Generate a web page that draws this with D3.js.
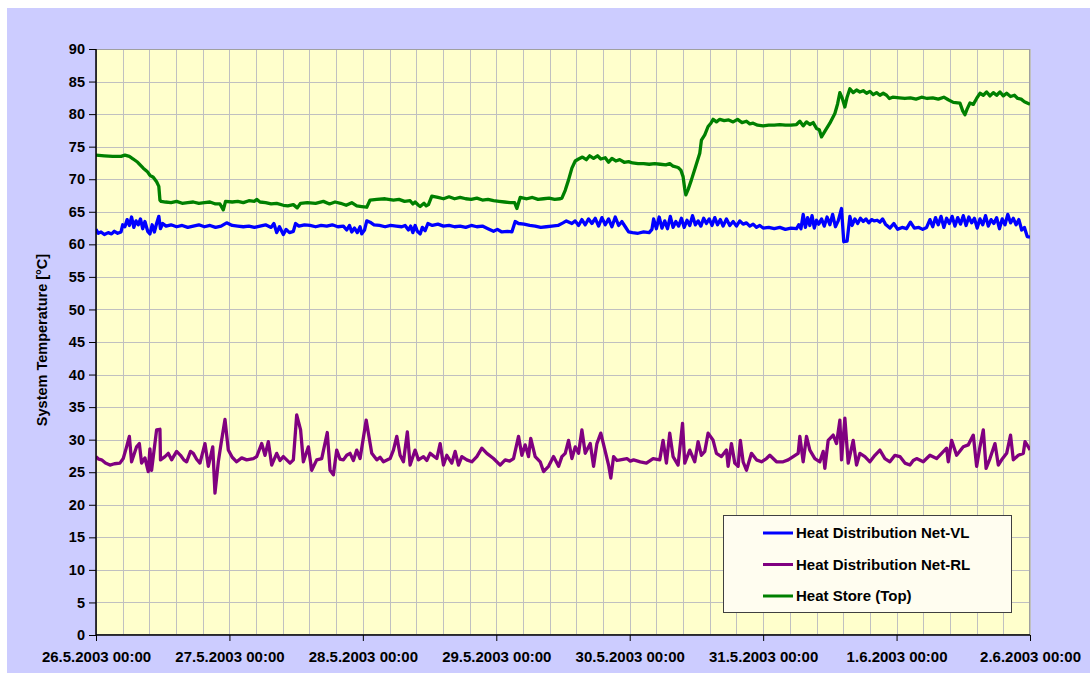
<!DOCTYPE html>
<html>
<head>
<meta charset="utf-8">
<script src="https://cdn.jsdelivr.net/npm/d3@7"></script>
<style>
  html, body { margin: 0; padding: 0; background: #ffffff; }
  svg { display: block; }
  text { font-family: Arial, "Liberation Sans", sans-serif; font-weight: bold; fill: #000; }
</style>
</head>
<body>
<svg id="chart" width="1090" height="673"></svg>
<script>
// Time axis: hours since 26.5.2003 00:00
const dayLabels = ["26.5.2003 00:00", "27.5.2003 00:00", "28.5.2003 00:00", "29.5.2003 00:00",
                   "30.5.2003 00:00", "31.5.2003 00:00", "1.6.2003 00:00", "2.6.2003 00:00"];
const yTicks = [0, 5, 10, 15, 20, 25, 30, 35, 40, 45, 50, 55, 60, 65, 70, 75, 80, 85, 90];
const seriesNames = ["Heat Distribution Net-VL", "Heat Distribution Net-RL", "Heat Store (Top)"];
const seriesColors = ["#0000ff", "#800080", "#008000"];

// [hour, °C]
const netVL = [[0,62.3],[0.4,61.7],[0.9,61.9],[1.5,61.5],[2.2,61.8],[2.8,61.6],[3.3,62.0],[3.9,61.7],[4.5,61.9],[4.8,63.0],[5.2,62.7],[5.6,63.8],[6.0,62.9],[6.4,64.2],[6.8,62.6],[7.2,63.6],[7.6,63.0],[8.0,63.9],[8.4,62.4],[8.8,63.5],[9.3,62.0],[9.7,61.6],[10.1,63.0],[10.5,61.9],[10.9,63.2],[11.3,64.3],[11.6,62.4],[12.0,63.2],[12.6,62.8],[13.5,63.0],[14.5,62.7],[15.5,62.9],[16.5,62.6],[17.5,62.8],[18.5,63.0],[19.5,62.7],[20.5,62.9],[21.5,62.6],[22.5,62.8],[23.5,63.3],[24.5,62.9],[25.5,62.8],[26.5,62.7],[27.5,62.8],[28.5,62.6],[29.5,62.8],[30.5,63.0],[31.5,62.6],[32.0,63.2],[32.5,61.8],[33.0,62.7],[33.7,61.5],[34.2,62.3],[34.8,61.8],[35.5,62.0],[35.9,63.2],[36.5,62.8],[37.5,63.0],[38.5,62.9],[39.5,62.7],[40.5,62.9],[41.5,62.8],[42.5,63.0],[43.5,62.7],[44.5,62.8],[45.1,62.2],[45.6,62.9],[46.0,61.9],[46.5,62.5],[47.0,61.8],[47.5,62.7],[47.8,61.6],[48.3,62.2],[48.7,63.6],[49.3,63.4],[50.0,63.0],[51.0,62.9],[52.0,62.7],[53.0,62.9],[54.0,62.8],[55.0,62.7],[55.6,62.9],[56.2,62.2],[56.6,62.8],[57.0,61.8],[57.4,62.9],[57.8,62.0],[58.3,61.6],[58.7,62.6],[59.2,62.1],[59.7,63.2],[60.5,62.9],[61.5,63.1],[62.5,62.8],[63.5,62.9],[64.5,62.7],[65.5,62.8],[66.5,62.6],[67.5,62.9],[68.5,62.7],[69.5,62.8],[70.5,62.4],[71.5,62.0],[72.2,62.3],[73.0,61.9],[74.0,62.0],[74.8,61.9],[75.4,63.5],[76.0,63.2],[77.0,63.1],[78.0,62.9],[79.0,62.8],[80.0,62.6],[81.0,62.7],[82.0,62.8],[83.1,62.9],[84.0,63.3],[84.6,63.6],[85.6,63.2],[86.2,63.6],[86.8,62.9],[87.4,63.8],[88.0,63.0],[88.6,63.9],[89.2,63.2],[89.8,64.0],[90.4,62.8],[91.0,64.1],[91.6,63.0],[92.2,63.9],[92.8,62.7],[93.4,64.2],[94.0,62.9],[94.6,63.5],[95.2,62.7],[95.8,61.9],[96.5,61.8],[97.5,61.7],[98.5,61.9],[99.5,61.8],[100.0,62.3],[100.3,63.9],[100.8,62.4],[101.3,64.2],[101.8,62.5],[102.3,63.6],[102.8,62.4],[103.3,64.3],[103.8,62.6],[104.3,63.5],[104.8,62.8],[105.3,64.0],[105.8,62.6],[106.3,63.7],[106.8,62.9],[107.3,64.4],[107.8,63.0],[108.3,63.6],[108.8,62.8],[109.3,64.0],[109.8,63.2],[110.3,63.9],[110.8,62.9],[111.3,64.1],[111.8,63.0],[112.3,63.8],[112.8,62.8],[113.4,63.9],[114.0,62.9],[114.6,63.5],[115.2,62.8],[115.8,63.6],[116.4,63.1],[117.0,63.3],[117.6,62.8],[118.2,63.1],[118.8,62.6],[119.4,62.9],[120.0,62.5],[121.0,62.6],[122.0,62.4],[123.0,62.6],[124.0,62.3],[125.0,62.5],[126.0,62.4],[126.4,63.0],[126.8,62.4],[127.2,64.6],[127.6,62.6],[128.0,64.1],[128.4,62.9],[128.8,64.4],[129.2,62.5],[129.6,63.7],[130.0,63.1],[130.5,63.9],[131.0,62.8],[131.5,64.2],[132.0,63.0],[132.5,64.6],[133.0,62.7],[133.5,63.6],[134.1,65.5],[134.5,60.4],[135.1,60.5],[135.6,64.3],[136.0,62.9],[136.5,63.9],[137.0,63.2],[137.5,64.0],[138.0,63.5],[138.5,63.9],[139.0,63.3],[139.5,63.8],[140.0,63.6],[140.5,63.7],[141.0,63.4],[141.5,63.9],[142.0,63.1],[142.8,62.5],[143.5,63.2],[144.2,62.3],[145.0,62.6],[145.8,62.4],[146.5,63.4],[147.2,62.5],[148.0,62.6],[148.7,62.3],[149.4,62.6],[150.0,63.8],[150.5,62.7],[151.0,64.1],[151.5,63.0],[152.0,64.3],[152.5,62.6],[153.0,64.0],[153.5,63.2],[154.0,64.3],[154.5,62.8],[155.0,64.1],[155.5,63.1],[156.0,64.4],[156.5,62.9],[157.0,64.2],[157.5,63.3],[158.0,64.0],[158.5,62.5],[159.0,63.9],[159.5,63.0],[160.0,64.4],[160.5,62.8],[161.0,63.8],[161.5,63.2],[162.0,64.1],[162.5,62.4],[163.0,63.9],[163.5,63.0],[164.0,64.6],[164.5,63.3],[165.0,64.0],[165.5,63.0],[166.0,63.8],[166.5,62.2],[167.0,62.6],[167.5,61.2],[168.0,61.1]];

const netRL = [[0,27.4],[0.5,27.0],[1.0,26.9],[1.7,26.4],[2.5,26.1],[3.3,26.3],[4.3,26.4],[4.9,27.1],[5.5,28.9],[6.0,30.5],[6.4,26.6],[7.3,28.9],[7.8,29.4],[8.2,26.4],[8.8,27.2],[9.4,25.1],[9.7,28.6],[10.0,25.3],[10.9,31.5],[11.5,31.6],[11.6,26.9],[12.4,27.4],[13.0,27.9],[13.6,26.9],[14.5,28.2],[15.2,27.6],[15.8,26.9],[16.3,26.6],[17.0,28.2],[17.5,27.9],[18.1,27.0],[18.7,26.4],[19.6,29.4],[20.2,25.9],[21.0,28.9],[21.4,21.8],[22.0,26.6],[22.5,29.4],[23.2,33.1],[23.8,28.4],[24.5,27.3],[25.3,26.6],[26.2,27.2],[27.1,26.9],[28.3,27.1],[28.9,27.4],[29.8,29.4],[30.4,27.6],[31.0,29.7],[31.6,26.1],[32.5,27.9],[33.1,26.8],[33.7,27.4],[34.9,26.4],[35.5,26.9],[36.1,33.8],[36.8,31.5],[37.3,26.6],[38.2,28.9],[38.8,25.3],[39.7,26.9],[40.6,27.1],[41.6,31.1],[42.1,25.3],[42.7,24.6],[43.3,28.4],[43.9,27.0],[44.5,26.9],[45.1,27.6],[45.7,27.9],[46.3,26.8],[46.9,28.4],[47.5,27.1],[48.6,33.0],[49.0,31.0],[49.6,27.9],[50.5,26.9],[51.1,27.3],[51.7,26.6],[52.9,27.1],[53.5,28.4],[54.1,30.5],[54.7,27.6],[55.3,26.6],[56.0,31.2],[56.5,26.1],[57.4,28.4],[58.0,26.9],[58.9,27.4],[59.5,26.8],[60.1,27.9],[61.3,27.1],[61.9,29.4],[62.5,26.1],[63.1,27.6],[64.0,26.4],[64.6,28.2],[65.2,26.1],[65.8,27.4],[66.7,26.9],[67.6,26.6],[68.5,27.4],[69.4,28.7],[70.3,27.9],[71.5,27.1],[72.7,26.1],[73.6,26.9],[74.4,26.7],[75.1,27.1],[76.0,30.5],[76.6,27.6],[77.2,29.2],[77.8,27.4],[78.2,30.2],[79.0,27.4],[79.9,26.6],[80.5,25.1],[81.4,25.9],[82.3,27.4],[83.2,25.9],[83.8,27.4],[84.4,27.9],[85.0,29.9],[85.6,27.1],[86.2,28.9],[86.8,27.9],[87.4,31.5],[88.0,27.9],[88.9,29.4],[89.5,25.9],[90.1,29.4],[90.8,31.0],[91.6,28.2],[92.2,26.1],[92.6,24.1],[93.1,27.4],[93.7,26.8],[94.3,26.9],[95.5,27.1],[96.1,26.7],[96.7,26.9],[97.9,26.6],[99.0,26.4],[100.2,27.1],[101.4,26.9],[102.0,29.9],[102.6,26.4],[103.2,31.0],[103.8,27.4],[104.7,26.1],[105.5,32.5],[105.9,26.4],[106.8,28.4],[107.7,26.6],[108.3,29.7],[108.9,27.6],[109.5,28.2],[110.1,31.0],[111.0,29.9],[111.6,27.9],[112.5,27.4],[113.4,28.4],[113.7,25.9],[114.3,29.4],[114.9,26.4],[115.5,25.9],[115.9,29.9],[116.4,26.6],[117.0,25.3],[117.9,27.9],[118.8,26.9],[119.7,26.6],[120.6,27.1],[121.2,27.6],[122.4,26.6],[123.6,26.6],[124.5,26.9],[125.4,27.4],[126.3,27.9],[126.6,30.5],[127.2,26.6],[127.8,30.5],[128.4,28.4],[129.3,27.1],[130.2,26.6],[130.8,28.2],[131.1,25.6],[131.7,29.9],[132.6,30.7],[133.2,29.4],[133.8,33.0],[134.1,26.9],[134.7,33.3],[135.3,26.4],[136.2,29.9],[136.8,26.1],[137.4,27.9],[138.3,27.4],[139.2,26.6],[140.1,27.6],[141.0,28.4],[141.9,27.1],[142.8,26.6],[143.7,27.6],[144.6,27.4],[145.5,26.4],[146.4,26.1],[147.0,26.8],[147.6,27.1],[148.8,26.6],[150.0,27.6],[151.2,27.1],[152.1,27.9],[153.0,28.7],[153.3,26.6],[153.9,29.9],[154.8,27.6],[156.0,28.9],[156.9,29.2],[157.8,30.7],[158.4,25.9],[159.0,28.9],[159.6,31.5],[160.1,25.6],[160.8,27.1],[161.7,29.4],[162.3,26.1],[162.9,26.9],[163.8,27.9],[164.5,30.7],[165.0,26.9],[165.9,27.6],[166.8,27.9],[167.1,29.7],[167.7,28.9],[168.0,28.4]];

const storeTop = [[0,73.7],[1.5,73.6],[3.0,73.5],[4.5,73.5],[5.2,73.7],[6.0,73.5],[6.7,73.1],[7.5,72.6],[8.5,71.7],[9.2,71.2],[9.7,70.6],[10.3,70.3],[10.9,69.6],[11.3,68.9],[11.5,66.8],[11.7,66.6],[12.5,66.5],[13.5,66.4],[14.5,66.6],[15.5,66.3],[16.5,66.4],[17.5,66.5],[18.5,66.3],[19.5,66.4],[20.5,66.5],[21.5,66.2],[22.3,66.2],[22.9,65.3],[23.3,66.6],[24.5,66.5],[25.5,66.6],[26.5,66.4],[27.5,66.7],[28.5,66.6],[28.9,66.9],[29.5,66.5],[30.5,66.4],[31.5,66.2],[32.5,66.3],[33.7,66.0],[34.5,65.9],[35.5,66.1],[36.2,65.6],[36.8,66.3],[38.0,66.4],[39.5,66.3],[40.9,66.6],[42.0,66.2],[43.0,66.5],[44.0,66.3],[45.0,66.0],[46.0,66.4],[46.9,65.9],[47.8,65.8],[48.7,65.7],[49.3,66.8],[50.5,66.9],[52.0,67.0],[53.5,66.8],[54.5,66.9],[55.5,66.6],[56.5,66.7],[57.0,66.2],[57.4,66.5],[58.0,66.0],[58.3,65.8],[59.0,66.3],[59.4,65.9],[59.8,66.1],[60.4,67.4],[61.5,67.2],[62.5,67.0],[63.5,67.3],[64.5,67.0],[65.5,67.2],[66.5,67.0],[67.5,66.9],[68.5,67.1],[69.5,66.8],[70.5,66.9],[71.5,66.7],[72.5,66.6],[73.5,66.5],[74.5,66.4],[75.3,66.4],[75.7,65.5],[76.3,67.2],[77.5,67.0],[78.5,67.2],[79.5,66.9],[80.5,67.0],[81.5,67.1],[82.5,66.9],[83.5,67.0],[83.8,67.1],[84.4,68.3],[85.0,69.9],[85.6,71.7],[86.2,72.8],[86.8,73.1],[87.5,73.4],[88.2,73.0],[88.8,73.6],[89.5,73.2],[90.2,73.6],[90.8,73.1],[91.6,73.3],[92.2,72.6],[92.8,73.2],[93.5,72.8],[94.2,73.0],[95.0,72.6],[95.8,72.7],[96.5,72.5],[97.5,72.4],[98.5,72.4],[99.5,72.3],[100.5,72.4],[101.5,72.3],[102.5,72.2],[103.2,72.4],[103.8,72.0],[104.7,71.8],[105.2,71.4],[105.6,70.4],[105.9,68.5],[106.1,67.6],[106.5,68.4],[107.1,69.9],[107.8,71.8],[108.6,74.0],[108.9,76.0],[109.5,76.8],[110.1,78.1],[110.6,78.6],[111.0,79.2],[111.6,78.8],[112.2,79.2],[113.0,79.0],[113.8,79.1],[114.6,78.8],[115.4,79.2],[116.2,78.7],[117.0,78.9],[117.6,78.5],[118.2,78.6],[119.0,78.3],[120.0,78.2],[121.0,78.3],[122.0,78.3],[123.0,78.4],[124.0,78.3],[125.0,78.3],[126.0,78.4],[126.6,78.9],[127.2,78.2],[127.8,78.8],[128.4,78.4],[129.0,78.7],[129.6,77.8],[130.1,77.6],[130.5,76.5],[131.2,77.5],[132.0,78.6],[132.9,80.1],[133.4,81.6],[133.8,83.3],[134.2,82.5],[134.7,81.1],[135.1,82.6],[135.6,83.9],[136.2,83.3],[136.8,83.7],[137.4,83.4],[138.0,83.6],[138.6,83.2],[139.2,83.5],[139.8,83.0],[140.4,83.3],[141.0,82.9],[141.6,83.2],[142.2,82.9],[142.7,82.4],[143.3,82.6],[144.5,82.5],[145.5,82.4],[146.5,82.5],[147.5,82.3],[148.5,82.6],[149.5,82.4],[150.5,82.5],[151.5,82.3],[152.5,82.6],[153.3,82.2],[154.2,81.8],[155.4,81.7],[155.9,80.5],[156.3,79.9],[156.7,80.8],[157.2,81.7],[157.8,81.5],[158.4,82.4],[159.0,83.2],[159.6,82.9],[160.2,83.4],[160.8,82.8],[161.4,83.3],[162.0,82.9],[162.6,83.4],[163.2,82.8],[163.8,83.2],[164.5,82.7],[165.2,82.9],[165.8,82.4],[166.4,82.3],[167.0,81.9],[168.0,81.5]];

const series = [netVL, netRL, storeTop];

const svg = d3.select("#chart");
const W = 1090, H = 673;
const plot = { left: 96, right: 1030, top: 49, bottom: 635 };

// chart area background
svg.append("rect").attr("x", 7).attr("y", 8).attr("width", W - 7).attr("height", H - 8)
  .attr("fill", "#ccccff");

// plot area background
svg.append("rect").attr("x", plot.left).attr("y", plot.top)
  .attr("width", plot.right - plot.left).attr("height", plot.bottom - plot.top)
  .attr("fill", "#ffffcc");

const x = d3.scaleLinear().domain([0, 168]).range([plot.left, plot.right]);
const y = d3.scaleLinear().domain([0, 90]).range([plot.bottom, plot.top]);

// gridlines: horizontal every 5 °C, vertical every 0.2 day
const grid = svg.append("g").attr("stroke", "#c0c0c0").attr("stroke-width", 1);
grid.selectAll("line.h").data(yTicks.slice(1)).join("line")
  .attr("x1", plot.left).attr("x2", plot.right)
  .attr("y1", d => Math.round(y(d)) + 0.5).attr("y2", d => Math.round(y(d)) + 0.5);
grid.selectAll("line.v").data(d3.range(1, 36).map(i => i * 4.8)).join("line")
  .attr("y1", plot.top).attr("y2", plot.bottom)
  .attr("x1", d => Math.round(x(d)) + 0.5).attr("x2", d => Math.round(x(d)) + 0.5);

// plot border
svg.append("rect").attr("x", plot.left + 0.5).attr("y", plot.top + 0.5)
  .attr("width", plot.right - plot.left - 1).attr("height", plot.bottom - plot.top - 1)
  .attr("fill", "none").attr("stroke", "#a0a0a0");

// series lines
const line = d3.line().x(d => x(d[0])).y(d => y(d[1]));
svg.append("clipPath").attr("id", "clip").append("rect")
  .attr("x", plot.left).attr("y", plot.top)
  .attr("width", plot.right - plot.left).attr("height", plot.bottom - plot.top);
svg.append("g").attr("clip-path", "url(#clip)")
  .selectAll("path").data(series).join("path")
  .attr("d", line)
  .attr("fill", "none")
  .attr("stroke", (d, i) => seriesColors[i])
  .attr("stroke-width", 3.3)
  .attr("stroke-linejoin", "round");

// axes
const yAxis = d3.axisLeft(y).tickValues(yTicks).tickSize(7).tickPadding(4);
const gy = svg.append("g").attr("transform", `translate(${plot.left},0)`).call(yAxis);
const xAxis = d3.axisBottom(x).tickValues(d3.range(0, 169, 24))
  .tickFormat((d, i) => dayLabels[i]).tickSize(6).tickPadding(10);
const gx = svg.append("g").attr("transform", `translate(0,${plot.bottom})`).call(xAxis);
[gx, gy].forEach(g => {
  g.select(".domain").attr("stroke", "#000").attr("stroke-width", 1.5);
  g.selectAll(".tick line").attr("stroke", "#000");
  g.selectAll("text").attr("font-family", "Arial, 'Liberation Sans', sans-serif")
    .attr("font-weight", "bold").attr("fill", "#000");
});
gy.selectAll("text").attr("font-size", 14.5);
gx.selectAll("text").attr("font-size", 15);
gx.select(".domain").attr("d", `M${plot.left},0H${plot.right}`);
gy.select(".domain").attr("d", `M0,${plot.top}V${plot.bottom}`);

// y axis title
svg.append("text")
  .attr("transform", `translate(47,${(plot.top + plot.bottom) / 2 - 2}) rotate(-90)`)
  .attr("text-anchor", "middle")
  .attr("font-size", 14.5)
  .text("System Temperature [°C]");

// legend
const lg = svg.append("g").attr("transform", "translate(723,515)");
lg.append("rect").attr("x", 0.5).attr("y", 0.5).attr("width", 288).attr("height", 97)
  .attr("fill", "#fffdf0").attr("stroke", "#404040").attr("stroke-width", 1);
seriesNames.forEach((name, i) => {
  const cy = 18 + i * 31.5;
  lg.append("line").attr("x1", 40).attr("x2", 70).attr("y1", cy).attr("y2", cy)
    .attr("stroke", seriesColors[i]).attr("stroke-width", 3);
  lg.append("text").attr("x", 73).attr("y", cy).attr("dy", "0.35em")
    .attr("font-size", 15).text(name);
});
</script>
</body>
</html>
